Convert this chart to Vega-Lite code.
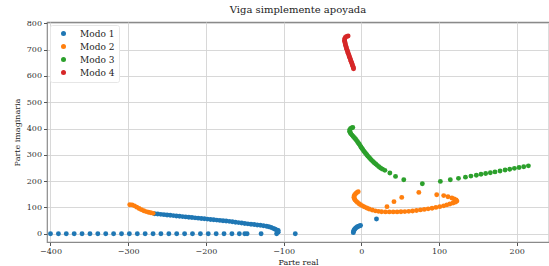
{
  "$schema": "https://vega.github.io/schema/vega-lite/v6.json",
  "autosize": "none",
  "width": 502,
  "height": 220,
  "padding": {"left": 47, "top": 22, "right": 0, "bottom": 24},
  "title": {"text": "Viga simplemente apoyada", "font": "DejaVu Serif", "fontSize": 10, "fontWeight": "normal", "color": "#222", "offset": 4, "anchor": "middle"},
  "config": {
    "view": {"stroke": "#8a8a8a", "strokeWidth": 1.2},
    "axis": {"labelFont": "DejaVu Serif", "titleFont": "DejaVu Serif", "labelFontSize": 8, "titleFontSize": 8, "titleFontWeight": "normal", "labelColor": "#333", "titleColor": "#222", "domain": false, "tickColor": "#555", "tickSize": 3.5, "gridColor": "#d4d4d4", "gridWidth": 0.9}
  },
  "data": {"values": [
    {"m":"Modo 1","x":-400,"y":0},{"m":"Modo 1","x":-389.8,"y":0},{"m":"Modo 1","x":-379.7,"y":0},{"m":"Modo 1","x":-369.5,"y":0},{"m":"Modo 1","x":-359.4,"y":0},{"m":"Modo 1","x":-349.2,"y":0},{"m":"Modo 1","x":-339.1,"y":0},{"m":"Modo 1","x":-328.9,"y":0},{"m":"Modo 1","x":-318.8,"y":0},{"m":"Modo 1","x":-308.6,"y":0},{"m":"Modo 1","x":-298.5,"y":0},{"m":"Modo 1","x":-288.3,"y":0},{"m":"Modo 1","x":-278.2,"y":0},{"m":"Modo 1","x":-268,"y":0},{"m":"Modo 1","x":-257.9,"y":0},{"m":"Modo 1","x":-247.7,"y":0},{"m":"Modo 1","x":-237.6,"y":0},{"m":"Modo 1","x":-227.4,"y":0},{"m":"Modo 1","x":-217.3,"y":0},{"m":"Modo 1","x":-207.1,"y":0},{"m":"Modo 1","x":-197,"y":0},{"m":"Modo 1","x":-186.8,"y":0},{"m":"Modo 1","x":-176.7,"y":0},{"m":"Modo 1","x":-166.5,"y":0},{"m":"Modo 1","x":-157,"y":0},{"m":"Modo 1","x":-150,"y":0},{"m":"Modo 1","x":-147,"y":0},{"m":"Modo 1","x":-129,"y":0},{"m":"Modo 1","x":-109,"y":0},{"m":"Modo 1","x":-107,"y":6},{"m":"Modo 1","x":-85,"y":0},
    {"m":"Modo 1","x":-266,"y":76},{"m":"Modo 1","x":-262,"y":74.8},{"m":"Modo 1","x":-258,"y":73.6},{"m":"Modo 1","x":-254,"y":72.4},{"m":"Modo 1","x":-250,"y":71.2},{"m":"Modo 1","x":-246,"y":70},{"m":"Modo 1","x":-242,"y":68.8},{"m":"Modo 1","x":-238,"y":67.5},{"m":"Modo 1","x":-234,"y":66.3},{"m":"Modo 1","x":-230,"y":65.1},{"m":"Modo 1","x":-226,"y":63.9},{"m":"Modo 1","x":-222,"y":62.7},{"m":"Modo 1","x":-218,"y":61.5},{"m":"Modo 1","x":-214,"y":60.3},{"m":"Modo 1","x":-210,"y":59.1},{"m":"Modo 1","x":-206,"y":57.9},{"m":"Modo 1","x":-202,"y":56.7},{"m":"Modo 1","x":-198,"y":55.5},{"m":"Modo 1","x":-194,"y":54.2},{"m":"Modo 1","x":-190,"y":53},{"m":"Modo 1","x":-186,"y":51.8},{"m":"Modo 1","x":-182,"y":50.6},{"m":"Modo 1","x":-178,"y":49.4},{"m":"Modo 1","x":-174,"y":48.2},{"m":"Modo 1","x":-170,"y":47},{"m":"Modo 1","x":-166,"y":45.4},{"m":"Modo 1","x":-162,"y":43.8},{"m":"Modo 1","x":-158,"y":42.2},{"m":"Modo 1","x":-154,"y":40.6},{"m":"Modo 1","x":-150,"y":39},{"m":"Modo 1","x":-146,"y":37.6},{"m":"Modo 1","x":-142,"y":36.2},{"m":"Modo 1","x":-138,"y":34.8},{"m":"Modo 1","x":-134,"y":33.4},{"m":"Modo 1","x":-130,"y":32},{"m":"Modo 1","x":-126,"y":30.3},{"m":"Modo 1","x":-122,"y":28.5},{"m":"Modo 1","x":-119,"y":26.5},{"m":"Modo 1","x":-116,"y":23.5},{"m":"Modo 1","x":-113,"y":20},{"m":"Modo 1","x":-111,"y":17},{"m":"Modo 1","x":-109,"y":14.5},{"m":"Modo 1","x":-107,"y":12},
    {"m":"Modo 1","x":-10.3,"y":4},{"m":"Modo 1","x":-10,"y":9},{"m":"Modo 1","x":-9.5,"y":13},{"m":"Modo 1","x":-8.6,"y":17},{"m":"Modo 1","x":-7.5,"y":21},{"m":"Modo 1","x":-6.2,"y":24},{"m":"Modo 1","x":-5,"y":26.5},{"m":"Modo 1","x":-3.5,"y":28.5},{"m":"Modo 1","x":-2,"y":30},{"m":"Modo 1","x":-1,"y":31},{"m":"Modo 1","x":19.5,"y":56},
    {"m":"Modo 2","x":-298,"y":110},{"m":"Modo 2","x":-295,"y":109.5},{"m":"Modo 2","x":-292,"y":106},{"m":"Modo 2","x":-289,"y":101},{"m":"Modo 2","x":-286,"y":96},{"m":"Modo 2","x":-283,"y":91.5},{"m":"Modo 2","x":-280,"y":87.5},{"m":"Modo 2","x":-277,"y":84},{"m":"Modo 2","x":-274,"y":81.5},{"m":"Modo 2","x":-271,"y":79.5},{"m":"Modo 2","x":-268,"y":77.5},
    {"m":"Modo 2","x":-4,"y":160},{"m":"Modo 2","x":-5.5,"y":157},{"m":"Modo 2","x":-7,"y":153},{"m":"Modo 2","x":-8.5,"y":148},{"m":"Modo 2","x":-9.3,"y":143},{"m":"Modo 2","x":-9.5,"y":138},{"m":"Modo 2","x":-9,"y":133},{"m":"Modo 2","x":-8,"y":128},{"m":"Modo 2","x":-6.5,"y":123},{"m":"Modo 2","x":-5,"y":119},{"m":"Modo 2","x":-3,"y":114},{"m":"Modo 2","x":-1,"y":110},{"m":"Modo 2","x":1.5,"y":106},{"m":"Modo 2","x":4,"y":102},{"m":"Modo 2","x":7,"y":98},{"m":"Modo 2","x":10,"y":94},{"m":"Modo 2","x":14,"y":90},{"m":"Modo 2","x":18,"y":87},{"m":"Modo 2","x":22,"y":85},{"m":"Modo 2","x":26,"y":83.5},{"m":"Modo 2","x":31,"y":83},{"m":"Modo 2","x":36,"y":83},{"m":"Modo 2","x":41,"y":83},{"m":"Modo 2","x":46,"y":83},{"m":"Modo 2","x":51,"y":83.5},{"m":"Modo 2","x":56,"y":84},{"m":"Modo 2","x":61,"y":85},{"m":"Modo 2","x":66,"y":86.5},{"m":"Modo 2","x":71,"y":88.5},{"m":"Modo 2","x":76,"y":90.5},{"m":"Modo 2","x":81,"y":92.5},{"m":"Modo 2","x":86,"y":94.5},{"m":"Modo 2","x":91,"y":97},{"m":"Modo 2","x":96,"y":100},{"m":"Modo 2","x":101,"y":103},{"m":"Modo 2","x":106,"y":106},{"m":"Modo 2","x":110,"y":109.5},{"m":"Modo 2","x":114,"y":113},{"m":"Modo 2","x":118,"y":117},{"m":"Modo 2","x":121,"y":120},{"m":"Modo 2","x":123,"y":124},{"m":"Modo 2","x":122,"y":128},{"m":"Modo 2","x":119.5,"y":132},{"m":"Modo 2","x":116.5,"y":136},{"m":"Modo 2","x":111.5,"y":140.5},{"m":"Modo 2","x":106,"y":145},{"m":"Modo 2","x":97,"y":148},{"m":"Modo 2","x":74,"y":157},{"m":"Modo 2","x":52,"y":138},{"m":"Modo 2","x":42,"y":122},{"m":"Modo 2","x":33,"y":103},
    {"m":"Modo 3","x":-11,"y":404},{"m":"Modo 3","x":-12.5,"y":402},{"m":"Modo 3","x":-14,"y":399},{"m":"Modo 3","x":-15,"y":395},{"m":"Modo 3","x":-15,"y":390},{"m":"Modo 3","x":-14.5,"y":385},{"m":"Modo 3","x":-13.5,"y":380},{"m":"Modo 3","x":-12,"y":375},{"m":"Modo 3","x":-10.5,"y":370},{"m":"Modo 3","x":-9,"y":365},{"m":"Modo 3","x":-7.5,"y":360},{"m":"Modo 3","x":-6.3,"y":355},{"m":"Modo 3","x":-5,"y":350},{"m":"Modo 3","x":-3.8,"y":345},{"m":"Modo 3","x":-2.6,"y":340},{"m":"Modo 3","x":-1.5,"y":335},{"m":"Modo 3","x":-0.5,"y":330},{"m":"Modo 3","x":0.6,"y":325},{"m":"Modo 3","x":1.8,"y":320},{"m":"Modo 3","x":3,"y":315},{"m":"Modo 3","x":4.3,"y":310},{"m":"Modo 3","x":5.6,"y":305},{"m":"Modo 3","x":7,"y":300},{"m":"Modo 3","x":8.4,"y":295},{"m":"Modo 3","x":10,"y":290},{"m":"Modo 3","x":11.5,"y":285},{"m":"Modo 3","x":13,"y":280},{"m":"Modo 3","x":14.8,"y":275},{"m":"Modo 3","x":16.6,"y":270},{"m":"Modo 3","x":18.5,"y":265},{"m":"Modo 3","x":20.5,"y":260},{"m":"Modo 3","x":22.5,"y":255},{"m":"Modo 3","x":24.7,"y":250},{"m":"Modo 3","x":27.3,"y":245.5},{"m":"Modo 3","x":30.3,"y":241},{"m":"Modo 3","x":36.7,"y":231},{"m":"Modo 3","x":44,"y":218},{"m":"Modo 3","x":54.6,"y":205},{"m":"Modo 3","x":78.5,"y":190},
    {"m":"Modo 3","x":101.7,"y":199},{"m":"Modo 3","x":114.5,"y":205},{"m":"Modo 3","x":125,"y":210.5},{"m":"Modo 3","x":134,"y":215},{"m":"Modo 3","x":141,"y":219},{"m":"Modo 3","x":148,"y":222.5},{"m":"Modo 3","x":154,"y":226},{"m":"Modo 3","x":160,"y":229},{"m":"Modo 3","x":166,"y":232},{"m":"Modo 3","x":172,"y":235},{"m":"Modo 3","x":178.5,"y":238.5},{"m":"Modo 3","x":185,"y":242},{"m":"Modo 3","x":191,"y":245},{"m":"Modo 3","x":197,"y":248.5},{"m":"Modo 3","x":203,"y":251.5},{"m":"Modo 3","x":209,"y":254.5},{"m":"Modo 3","x":215,"y":258},
    {"m":"Modo 4","x":-17,"y":752},{"m":"Modo 4","x":-19,"y":750},{"m":"Modo 4","x":-20.6,"y":746},{"m":"Modo 4","x":-21.4,"y":741},{"m":"Modo 4","x":-21.6,"y":736},{"m":"Modo 4","x":-21.4,"y":731},{"m":"Modo 4","x":-21,"y":726},{"m":"Modo 4","x":-20.6,"y":721},{"m":"Modo 4","x":-20.2,"y":716},{"m":"Modo 4","x":-19.7,"y":711},{"m":"Modo 4","x":-19.2,"y":706},{"m":"Modo 4","x":-18.7,"y":701},{"m":"Modo 4","x":-18.1,"y":696},{"m":"Modo 4","x":-17.5,"y":691},{"m":"Modo 4","x":-16.9,"y":686},{"m":"Modo 4","x":-16.3,"y":681},{"m":"Modo 4","x":-15.7,"y":676},{"m":"Modo 4","x":-15.1,"y":671},{"m":"Modo 4","x":-14.5,"y":666},{"m":"Modo 4","x":-13.9,"y":661},{"m":"Modo 4","x":-13.3,"y":656},{"m":"Modo 4","x":-12.6,"y":651},{"m":"Modo 4","x":-12,"y":646},{"m":"Modo 4","x":-11.4,"y":641},{"m":"Modo 4","x":-10.8,"y":636},{"m":"Modo 4","x":-10.3,"y":631},{"m":"Modo 4","x":-10,"y":627}
  ]},
  "mark": {"type": "point", "filled": true, "opacity": 1, "size": 24, "shape": "circle"},
  "encoding": {
    "x": {"field": "x", "type": "quantitative", "scale": {"domain": [-404.5, 241.5], "nice": false, "zero": false},
      "axis": {"values": [-400, -300, -200, -100, 0, 100, 200], "title": "Parte real", "labelPadding": 2, "titlePadding": 3}},
    "y": {"field": "y", "type": "quantitative", "scale": {"domain": [-31.5, 805], "nice": false, "zero": false},
      "axis": {"values": [0, 100, 200, 300, 400, 500, 600, 700, 800], "title": "Parte imaginaria", "labelPadding": 2, "titlePadding": 5}},
    "color": {"field": "m", "type": "nominal",
      "scale": {"domain": ["Modo 1", "Modo 2", "Modo 3", "Modo 4"], "range": ["#1f77b4", "#ff7f0e", "#2ca02c", "#d62728"]},
      "legend": {"title": null, "orient": "none", "legendX": 3, "legendY": 3, "fillColor": "white", "strokeColor": "#e6e6e6", "cornerRadius": 2, "padding": 4, "symbolType": "circle", "symbolSize": 25, "symbolOffset": 5, "labelOffset": 12, "labelFont": "DejaVu Serif", "labelFontSize": 9, "labelColor": "#222", "rowPadding": 3}}
  }
}
